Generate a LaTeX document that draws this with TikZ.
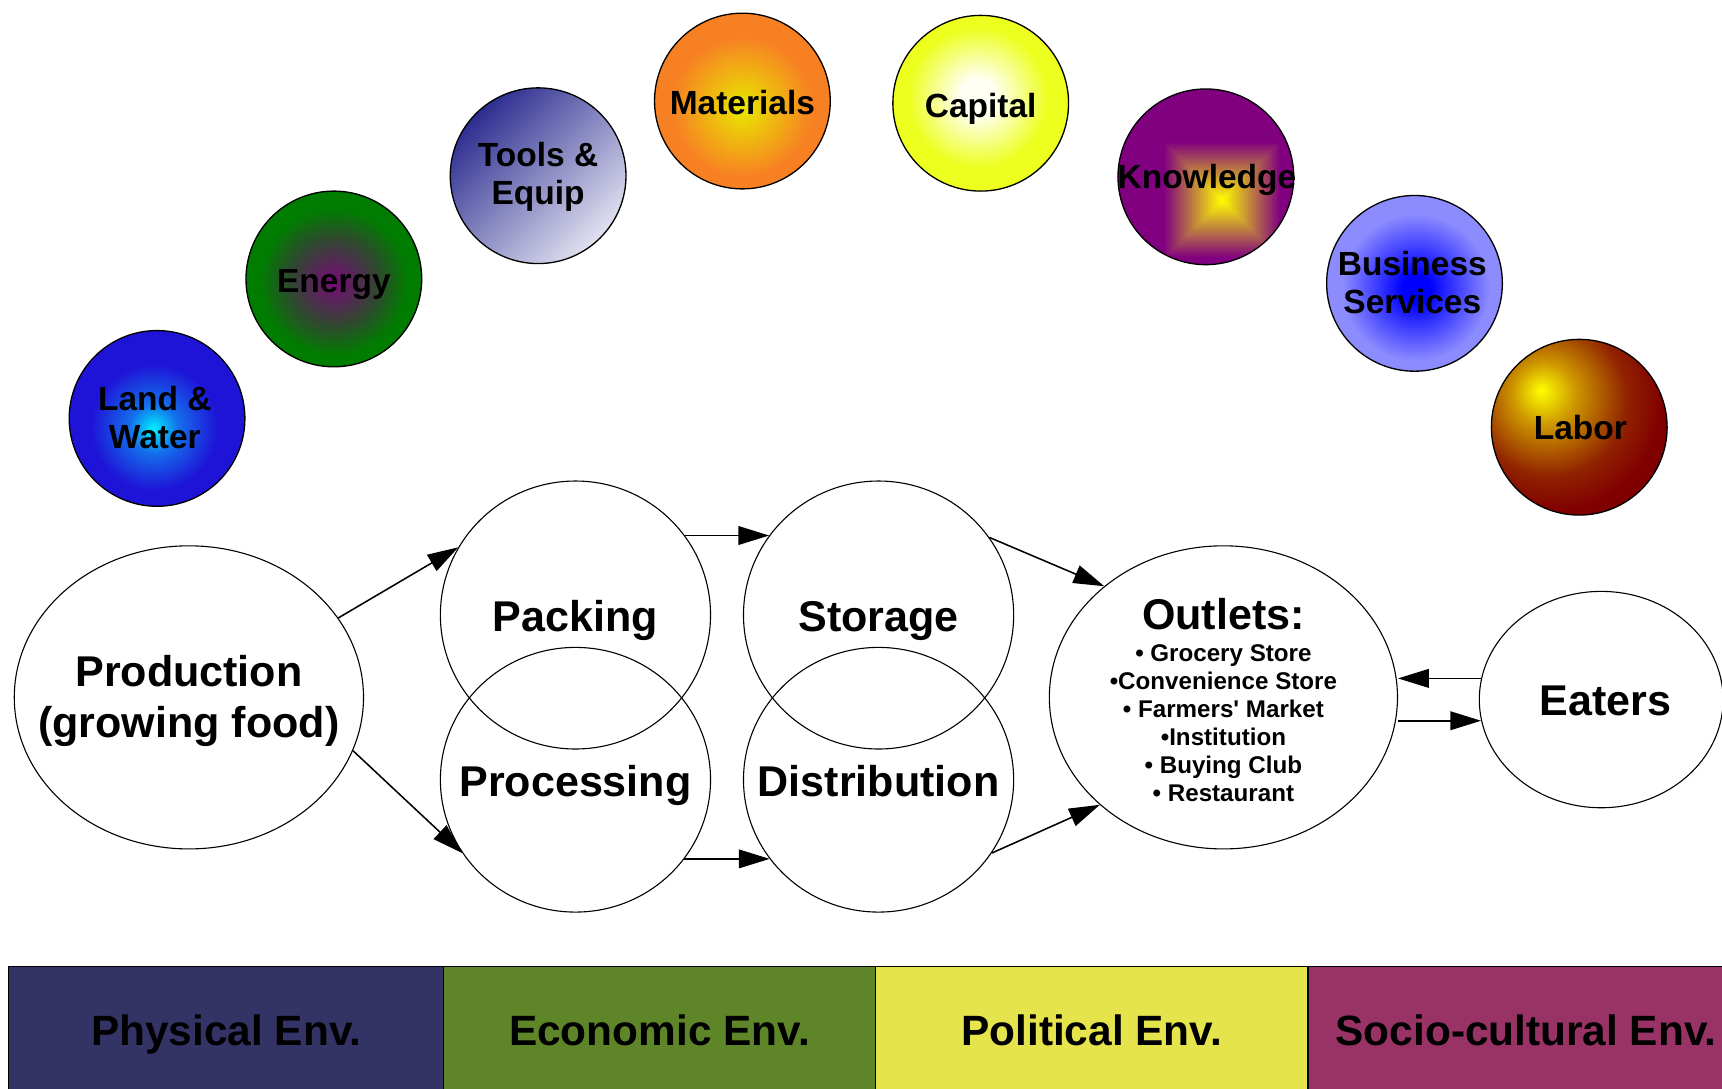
\documentclass[tikz,border=0pt]{standalone}
\usepackage{fontspec}
\setmainfont{Liberation Sans}[Ligatures=TeXOff]
\usetikzlibrary{shapes.geometric,arrows.meta}

\definecolor{lwA}{RGB}{0,240,255}
\definecolor{lwB}{RGB}{20,110,235}
\definecolor{lwC}{RGB}{30,20,215}
\definecolor{enA}{RGB}{120,10,120}
\definecolor{enB}{RGB}{50,70,50}
\definecolor{enC}{RGB}{0,125,0}
\definecolor{tlA}{RGB}{45,45,145}
\definecolor{tlB}{RGB}{225,225,240}
\definecolor{mtA}{RGB}{232,232,0}
\definecolor{mtB}{RGB}{247,128,35}
\definecolor{caA}{RGB}{255,255,245}
\definecolor{caB}{RGB}{236,255,30}
\definecolor{bsA}{RGB}{0,0,255}
\definecolor{bsB}{RGB}{140,140,255}
\definecolor{lbA}{RGB}{255,255,0}
\definecolor{lbB}{RGB}{205,150,0}
\definecolor{lbC}{RGB}{145,35,0}
\definecolor{lbD}{RGB}{128,0,0}
\definecolor{physc}{RGB}{51,51,102}
\definecolor{econc}{RGB}{94,133,39}
\definecolor{polc}{RGB}{230,228,76}
\definecolor{socc}{RGB}{153,51,102}

% the path's bounding box covers the central 50bp square of a shading
\pgfdeclareradialshading{landsh}{\pgfpoint{-1bp}{-3bp}}{color(0bp)=(lwA); color(7bp)=(lwB); color(18bp)=(lwC); color(100bp)=(lwC)}
\pgfdeclareradialshading{enersh}{\pgfpoint{0bp}{-1bp}}{color(0bp)=(enA); color(12bp)=(enB); color(21bp)=(enC); color(100bp)=(enC)}
\pgfdeclareradialshading{matsh}{\pgfpoint{0bp}{-2bp}}{color(0bp)=(mtA); color(20bp)=(mtB); color(100bp)=(mtB)}
\pgfdeclareradialshading{capsh}{\pgfpoint{-1bp}{2bp}}{color(0bp)=(caA); color(5bp)=(caA); color(20bp)=(caB); color(100bp)=(caB)}
\pgfdeclareradialshading{bussh}{\pgfpoint{0.5bp}{-1.5bp}}{color(0bp)=(bsA); color(4bp)=(bsA); color(21bp)=(bsB); color(100bp)=(bsB)}
\pgfdeclareradialshading{laborsh}{\pgfpoint{-11bp}{10.5bp}}{color(0bp)=(lbA); color(9bp)=(lbB); color(22bp)=(lbC); color(31bp)=(lbD); color(100bp)=(lbD)}
\pgfdeclarefunctionalshading{knsq}{\pgfpoint{-50bp}{-50bp}}{\pgfpoint{50bp}{50bp}}{}{
  6.5 add abs exch 4.5 sub abs 2 copy lt {exch} if pop 16.5 div dup 1 gt {pop 1} if
  dup 0.5 mul 1 exch sub exch dup 1 exch sub exch 0.5 mul
}

\tikzset{
  res/.style={circle, draw=black, line width=0.6pt, minimum size=80pt, inner sep=0pt},
  reslabel/.style={font=\fontsize{15.25}{17}\selectfont\bfseries, align=center, inner sep=0pt, text depth=0pt},
  stage/.style={ellipse, draw=black, line width=0.5pt, inner sep=0pt},
  stagelabel/.style={font=\fontsize{19.6}{23.5}\selectfont\bfseries, align=center, inner sep=0pt, text depth=0pt},
  outlabel/.style={font=\fontsize{11}{12.75}\selectfont\bfseries, align=center, inner sep=0pt, text depth=0pt},
  flow/.style={-{Triangle[length=14pt,width=8.5pt]}, line width=0.7pt},
  envbox/.style={draw=black, line width=0.6pt, minimum height=58pt, inner sep=0pt, text depth=0pt,
    font=\fontsize{19.3}{22}\selectfont\bfseries},
}

\begin{document}
\begin{tikzpicture}[x=0.5pt,y=-0.5pt]
\useasboundingbox (0,0) rectangle (1568,991);
\fill[white] (0,0) rectangle (1568,991);

% resources
\node[res, shading=landsh] (land) at (143,381) {};
\node[reslabel] (landt) at (141,380) {Land \&\\Water};
\node[res, shading=enersh] (ener) at (304,254) {};
\node[reslabel] (enert) at (304,256) {Energy};
\node[res, top color=tlA, bottom color=tlB, shading angle=45] (tools) at (490,160) {};
\node[reslabel] (toolst) at (490,158) {Tools \&\\Equip};
\node[res, shading=matsh] (mat) at (676,92) {};
\node[reslabel] (matt) at (676,93) {Materials};
\node[res, shading=capsh] (cap) at (893,94) {};
\node[reslabel] (capt) at (893,96) {Capital};
\node[res, shading=knsq] (know) at (1098,161) {};
\node[reslabel] (knowt) at (1099,161) {Knowledge};
\node[res, shading=bussh] (bus) at (1288,258) {};
\node[reslabel] (bust) at (1286,257) {Business\\Services};
\node[res, shading=laborsh] (labor) at (1438,389) {};
\node[reslabel] (labort) at (1439,389) {Labor};

% stages
\node[stage, minimum width=159pt, minimum height=138pt] (prod) at (172,635) {};
\node[stagelabel] (prodt) at (172,634) {Production\\(growing food)};
\node[stage, minimum width=123pt, minimum height=122pt] (pack) at (524,560) {};
\node[stagelabel] (packt) at (524,561) {Packing};
\node[stage, minimum width=123pt, minimum height=120.5pt] (proc) at (524,710) {};
\node[stagelabel] (proct) at (524,711) {Processing};
\node[stage, minimum width=123pt, minimum height=122pt] (stor) at (800,560) {};
\node[stagelabel] (stort) at (800,561) {Storage};
\node[stage, minimum width=123pt, minimum height=120.5pt] (dist) at (800,710) {};
\node[stagelabel] (distt) at (800,711) {Distribution};
\node[stage, minimum width=158.5pt, minimum height=138pt] (out) at (1114,635) {};
\node[outlabel] (outt) at (1114,637) {{\fontsize{19.6}{23.5}\selectfont Outlets:}\\[1.75pt]
  • Grocery Store\\•Convenience Store\\• Farmers' Market\\•Institution\\• Buying Club\\• Restaurant};
\node[stage, minimum width=111pt, minimum height=98.5pt] (eat) at (1458,637) {};
\node[stagelabel] (eatt) at (1462,638) {Eaters};

% flows
\draw[flow] (prod.28) -- (pack.150);
\draw[flow] (prod.-18) -- (proc.213);
\draw[flow] (pack.36) -- (stor.144);
\draw[flow] (proc.-36) -- (dist.216);
\draw[flow] (stor.35) -- (out.137);
\draw[flow] (dist.-33) -- (out.221);
\draw[flow] (eat.170) -- (eat.170 -| out.east);
\draw[flow] (eat.190 -| out.east) -- (eat.190);

% environments
\node[envbox, fill=physc, minimum width=198pt] (phys) at (206,938) {Physical Env.};
\node[envbox, fill=econc, minimum width=196.5pt] (econ) at (600.5,938) {Economic Env.};
\node[envbox, fill=polc, minimum width=197pt] (pol) at (994,938) {Political Env.};
\node[envbox, fill=socc, minimum width=198.5pt] (soc) at (1389.5,938) {Socio-cultural Env.};
\end{tikzpicture}
\end{document}
